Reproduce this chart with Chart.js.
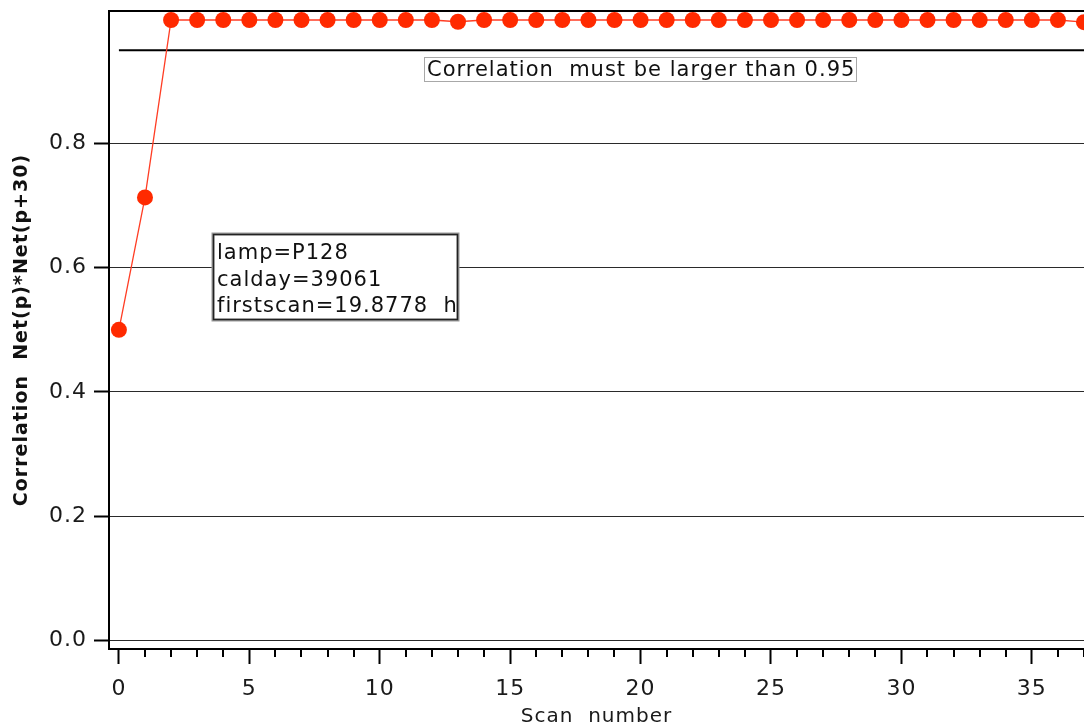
<!DOCTYPE html>
<html>
<head>
<meta charset="utf-8">
<title>Scan correlation</title>
<script src="https://cdn.jsdelivr.net/npm/chart.js@4.4.1/dist/chart.umd.min.js"></script>
<style>
  html, body { margin: 0; padding: 0; background: #fff; }
  #wrap { width: 1084px; height: 728px; position: relative; }
</style>
</head>
<body>
<div id="wrap"><canvas id="chart"></canvas></div>
<script>
// Scan numbers and correlation of Net(p) with Net(p+30)
const scanNumbers = [0, 1, 2, 3, 4, 5, 6, 7, 8, 9, 10, 11, 12, 13, 14, 15, 16, 17, 18,
  19, 20, 21, 22, 23, 24, 25, 26, 27, 28, 29, 30, 31, 32, 33, 34, 35, 36, 37];
const correlation = [0.500, 0.713, 0.9985, 0.9985, 0.9985, 0.9985, 0.9985, 0.9985,
  0.9985, 0.9985, 0.9985, 0.9985, 0.9985, 0.9957, 0.9985, 0.9985, 0.9985, 0.9985,
  0.9985, 0.9985, 0.9985, 0.9985, 0.9985, 0.9985, 0.9985, 0.9985, 0.9985, 0.9985,
  0.9985, 0.9985, 0.9985, 0.9985, 0.9985, 0.9985, 0.9985, 0.9985, 0.9985, 0.995];

// Acceptance threshold drawn as a horizontal rule
const threshold = 0.95;

// Axis tick labels
const xTickLabels = ['0', '5', '10', '15', '20', '25', '30', '35'];
const yTickLabels = ['0.0', '0.2', '0.4', '0.6', '0.8'];

// Annotation texts
const thresholdNote = 'Correlation  must be larger than 0.95';
const infoLines = ['lamp=P128', 'calday=39061', 'firstscan=19.8778  h'];

const FONT = "'DejaVu Sans', Verdana, sans-serif";
Chart.defaults.font.family = FONT;
Chart.defaults.color = '#1a1a1a';

// Slightly tracked lettering for all canvas text
const trackingPlugin = {
  id: 'tracking',
  beforeDraw(chart) { chart.ctx.letterSpacing = '1px'; },
  afterDraw(chart) { chart.ctx.letterSpacing = '0px'; }
};

// Top frame line and minor x ticks
const framePlugin = {
  id: 'frame',
  afterDraw(chart) {
    const { ctx, chartArea, scales } = chart;
    ctx.save();
    ctx.strokeStyle = '#000';
    ctx.lineWidth = 2;
    ctx.beginPath();
    ctx.moveTo(chartArea.left - 1, chartArea.top);
    ctx.lineTo(chartArea.right, chartArea.top);
    ctx.stroke();
    // minor ticks every scan
    const xs = scales.x;
    ctx.beginPath();
    scanNumbers.forEach(n => {
      if (n % 5 === 0) return;
      const px = Math.round(xs.getPixelForValue(n));
      ctx.moveTo(px, xs.top);
      ctx.lineTo(px, xs.top + 8);
    });
    ctx.stroke();
    ctx.restore();
  }
};

// Text boxes anchored in data coordinates
const notesPlugin = {
  id: 'notes',
  afterDatasetsDraw(chart) {
    const { ctx, scales } = chart;
    const xs = scales.x, ys = scales.y;
    ctx.save();
    ctx.textBaseline = 'alphabetic';
    ctx.textAlign = 'left';

    // threshold note
    ctx.font = '21px ' + FONT;
    let x0 = Math.round(xs.getPixelForValue(11.68));
    let y0 = Math.round(ys.getPixelForValue(0.939));
    let w = Math.round(ctx.measureText(thresholdNote).width) + 4;
    ctx.fillStyle = '#fff';
    ctx.fillRect(x0, y0, w, 24);
    ctx.strokeStyle = '#a8a8a8';
    ctx.lineWidth = 1;
    ctx.strokeRect(x0 + 0.5, y0 + 0.5, w, 24);
    ctx.fillStyle = '#111';
    ctx.fillText(thresholdNote, x0 + 3, y0 + 19);

    // lamp info box
    ctx.font = '21px ' + FONT;
    x0 = Math.round(xs.getPixelForValue(3.59));
    y0 = Math.round(ys.getPixelForValue(0.654));
    w = Math.round(Math.max(...infoLines.map(t => ctx.measureText(t).width))) + 4;
    const h = 86;
    ctx.fillStyle = '#fff';
    ctx.fillRect(x0, y0, w, h);
    ctx.strokeStyle = '#9a9a9a';
    ctx.lineWidth = 3;
    ctx.strokeRect(x0, y0, w, h);
    ctx.strokeStyle = '#222';
    ctx.lineWidth = 1.5;
    ctx.strokeRect(x0 + 0.5, y0 + 0.5, w - 1, h - 1);
    ctx.fillStyle = '#111';
    infoLines.forEach((t, i) => ctx.fillText(t, x0 + 4, y0 + 25 + i * 26.5));
    ctx.restore();
  }
};

new Chart(document.getElementById('chart'), {
  type: 'line',
  data: {
    datasets: [
      {
        label: 'correlation',
        data: scanNumbers.map((n, i) => ({ x: n, y: correlation[i] })),
        borderColor: '#ff3d24',
        borderWidth: 1.3,
        backgroundColor: '#ff2a00',
        pointBackgroundColor: '#ff2a00',
        pointBorderColor: '#ff2a00',
        pointRadius: 8,
        pointBorderWidth: 0,
        tension: 0,
        clip: false
      },
      {
        label: 'threshold',
        data: [
          { x: scanNumbers[0], y: threshold },
          { x: scanNumbers[scanNumbers.length - 1], y: threshold }
        ],
        borderColor: '#000',
        borderWidth: 2,
        pointRadius: 0,
        tension: 0
      }
    ]
  },
  options: {
    responsive: true,
    maintainAspectRatio: false,
    animation: false,
    events: [],
    layout: { autoPadding: false, padding: { top: 11, right: 0, left: 0, bottom: 0 } },
    plugins: {
      legend: { display: false },
      tooltip: { enabled: false }
    },
    scales: {
      x: {
        type: 'linear',
        min: -0.38,
        max: 37,
        afterFit(scale) {
          scale.height = 79;
          scale.paddingLeft = 0;
          scale.paddingRight = 0;
        },
        border: { display: true, color: '#000', width: 2 },
        grid: {
          drawOnChartArea: false,
          drawTicks: true,
          tickLength: 15,
          tickWidth: 2,
          tickColor: '#000'
        },
        ticks: {
          stepSize: 5,
          includeBounds: false,
          autoSkip: false,
          maxRotation: 0,
          padding: 12,
          font: { size: 22 },
          color: '#1a1a1a',
          callback: (v) => xTickLabels[xTickLabels.indexOf(String(v))] ?? ''
        },
        title: {
          display: true,
          text: 'Scan  number',
          font: { size: 20 },
          color: '#1a1a1a',
          padding: { top: 0, bottom: -1 }
        }
      },
      y: {
        type: 'linear',
        min: -0.0135,
        max: 1.013,
        afterFit(scale) {
          scale.width = 109;
          scale.paddingTop = 0;
          scale.paddingBottom = 0;
        },
        afterBuildTicks(scale) {
          scale.ticks = scale.ticks.filter(t => t.value < 0.9);
        },
        border: { display: true, color: '#000', width: 2 },
        grid: {
          drawOnChartArea: true,
          color: '#2a2a2a',
          lineWidth: 1,
          drawTicks: true,
          tickLength: 15,
          tickWidth: 2,
          tickColor: '#000'
        },
        ticks: {
          stepSize: 0.2,
          includeBounds: false,
          padding: 7,
          font: { size: 22 },
          color: '#1a1a1a',
          callback: (v) => yTickLabels.find(l => Math.abs(parseFloat(l) - v) < 1e-6) ?? ''
        },
        title: {
          display: true,
          text: 'Correlation  Net(p)*Net(p+30)',
          font: { size: 19, weight: 'bold' },
          color: '#111',
          padding: { top: 11, bottom: 0 }
        }
      }
    }
  },
  plugins: [trackingPlugin, framePlugin, notesPlugin]
});
</script>
</body>
</html>
